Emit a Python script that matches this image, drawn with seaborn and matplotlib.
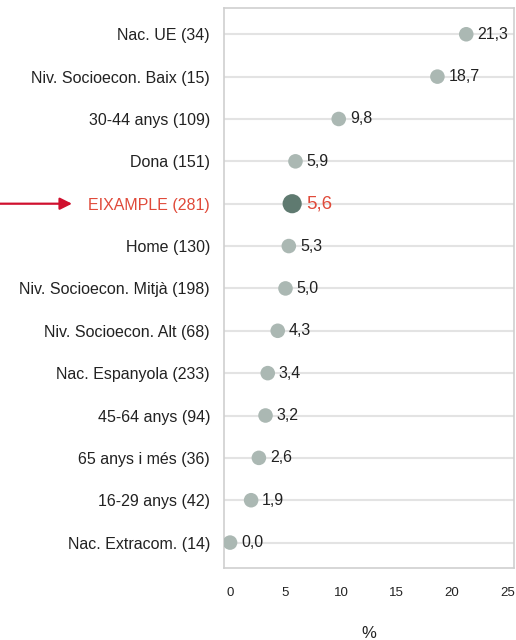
import pandas as pd
import matplotlib.pyplot as plt
import seaborn as sns

# Data
labels = ["Nac. UE (34)", "Niv. Socioecon. Baix (15)", "30-44 anys (109)", "Dona (151)",
          "EIXAMPLE (281)", "Home (130)", "Niv. Socioecon. Mitjà (198)",
          "Niv. Socioecon. Alt (68)", "Nac. Espanyola (233)", "45-64 anys (94)",
          "65 anys i més (36)", "16-29 anys (42)", "Nac. Extracom. (14)"]
values = [21.3, 18.7, 9.8, 5.9, 5.6, 5.3, 5.0, 4.3, 3.4, 3.2, 2.6, 1.9, 0.0]
highlight = "EIXAMPLE (281)"
x_ticks = [0, 5, 10, 15, 20, 25]

df = pd.DataFrame({"label": labels, "value": values})
df["pos"] = range(len(df))
df["hl"] = df["label"] == highlight

sns.set_style("white")
plt.rcParams['font.family'] = ['Liberation Sans', 'DejaVu Sans']

fig = plt.figure(figsize=(5.16, 6.4), dpi=100)
ax = fig.add_axes([0.434, 0.1125, 0.562, 0.875])

# light horizontal guide lines
for p in df["pos"]:
    ax.axhline(p, color="#e3e3e3", lw=1.5, zorder=0)

sns.scatterplot(data=df[~df["hl"]], x="value", y="pos", s=110, color="#abb8b3",
                edgecolor="none", ax=ax, zorder=3, legend=False)
sns.scatterplot(data=df[df["hl"]], x="value", y="pos", s=190, color="#5f7a70",
                edgecolor="none", ax=ax, zorder=3, legend=False)

for _, r in df.iterrows():
    txt = f"{r['value']:.1f}".replace(".", ",")
    if r["hl"]:
        ax.annotate(txt, (r["value"], r["pos"]), xytext=(10, 0), textcoords="offset points",
                    va="center", ha="left", fontsize=13.5, color="#e04a3a")
    else:
        ax.annotate(txt, (r["value"], r["pos"]), xytext=(8, 0), textcoords="offset points",
                    va="center", ha="left", fontsize=11.5, color="#222222")

ax.set_xlim(-0.55, 25.6)
ax.set_ylim(12.6, -0.62)
ax.set_yticks(df["pos"])
ax.set_yticklabels(df["label"], fontsize=11.5)
for lab, hl in zip(ax.get_yticklabels(), df["hl"]):
    lab.set_color("#e04a3a" if hl else "#222222")
ax.tick_params(axis="y", length=0, pad=10)
ax.set_xticks(x_ticks)
ax.tick_params(axis="x", length=4, width=1, color="#cccccc", direction="out",
               pad=10, labelsize=9.5, labelcolor="#222222")
ax.set_xlabel("%", fontsize=12, labelpad=19, color="#222222")
ax.set_ylabel("")
for sp in ax.spines.values():
    sp.set_color("#cfcfcf")
    sp.set_linewidth(1.2)

# arrow pointing to the highlighted row
y_hl = df.loc[df["hl"], "pos"].iloc[0]
ax.annotate("", xy=(72 / 516, y_hl), xycoords=("figure fraction", "data"),
            xytext=(0, y_hl), textcoords=("figure fraction", "data"),
            arrowprops=dict(arrowstyle="-|>", color="#d0102e", lw=1.6, mutation_scale=18,
                            shrinkA=0, shrinkB=0),
            annotation_clip=False)

fig.savefig("out.png", dpi=100)
